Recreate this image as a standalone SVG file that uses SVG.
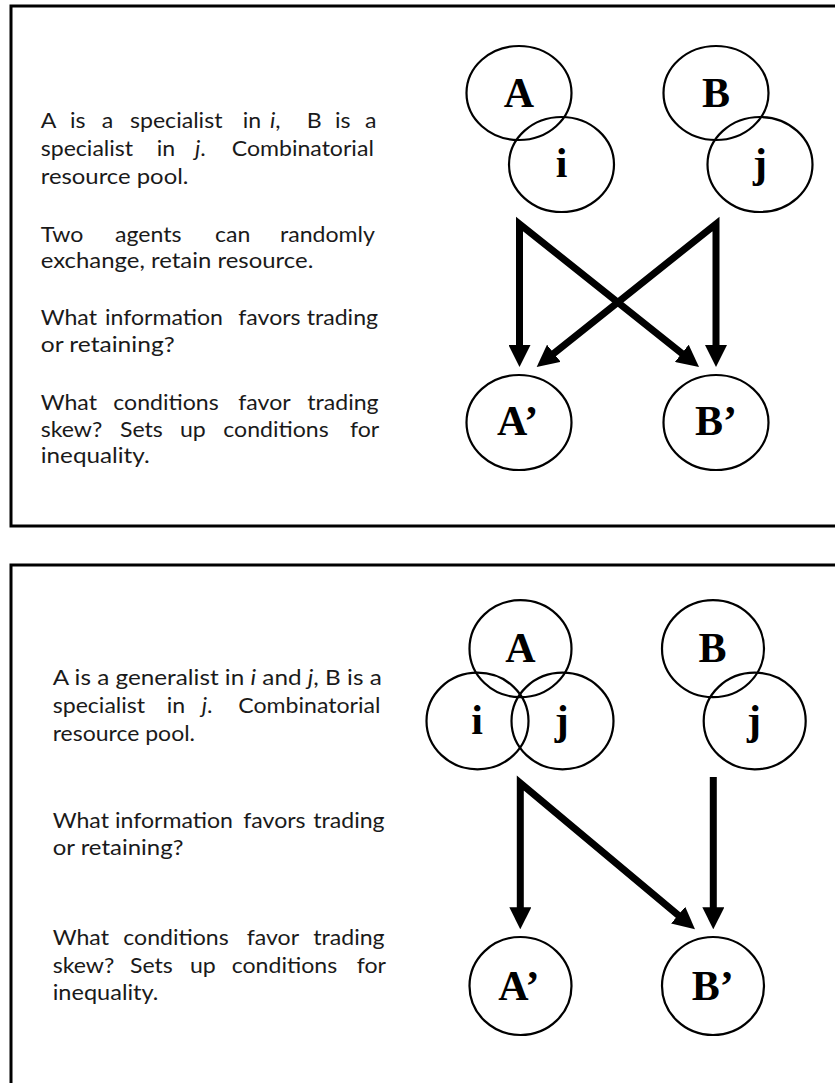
<svg xmlns="http://www.w3.org/2000/svg" width="835" height="1083" viewBox="0 0 835 1083">
<style>
.panel{fill:#fff;stroke:#000;stroke-width:3}
.c{fill:none;stroke:#000;stroke-width:2.2}
.lbl{font-family:"Liberation Serif","Times New Roman",serif;font-weight:bold;font-size:42px;fill:#000}
.t{font-family:Lato,"Open Sans",sans-serif;font-size:21px;fill:#1a1a1a}
.conn{fill:none;stroke:#000;stroke-width:7;stroke-linejoin:miter;stroke-miterlimit:6}
</style>
<defs>
<marker id="ah" viewBox="0 -11 22 22" refX="1" refY="0" markerWidth="22" markerHeight="22" markerUnits="userSpaceOnUse" orient="auto-start-reverse">
<path d="M0,-11 L22,0 L0,11 z" fill="#000"/>
</marker>
</defs>
<rect width="835" height="1083" fill="#fff"/>
<rect id="panel-top" class="panel" x="11" y="6" width="840" height="520"/>
<rect id="panel-bottom" class="panel" x="11" y="565" width="840" height="530"/>

<g id="text-top" class="t" transform="scale(1.1,1)">
<text><tspan x="37" y="128.3">A</tspan><tspan x="63.64">is</tspan><tspan x="92.45">a</tspan><tspan x="118.18">specialist</tspan><tspan x="220.64">in</tspan><tspan x="245.45" font-style="italic">i</tspan><tspan>,</tspan><tspan x="278.82">B</tspan><tspan x="304.55">is</tspan><tspan x="331.82">a</tspan><tspan x="37" y="156">specialist</tspan><tspan x="142.45">in</tspan><tspan x="177.27" font-style="italic">j</tspan><tspan>.</tspan><tspan x="210.64">Combinatorial</tspan><tspan x="37" y="184.3" textLength="134.3" lengthAdjust="spacingAndGlyphs">resource pool.</tspan></text>
<text><tspan x="37" y="241.7">Two</tspan><tspan x="104.55">agents</tspan><tspan x="195.45">can</tspan><tspan x="254.55">randomly</tspan><tspan x="37" y="268.3" textLength="247.8" lengthAdjust="spacingAndGlyphs">exchange, retain resource.</tspan></text>
<text><tspan x="37" y="325">What</tspan><tspan x="95.45">information</tspan><tspan x="216.64">favors</tspan><tspan x="278.82">trading</tspan><tspan x="37" y="351.7" textLength="121.8" lengthAdjust="spacingAndGlyphs">or retaining?</tspan></text>
<text><tspan x="37" y="410">What</tspan><tspan x="103">conditions</tspan><tspan x="216.64">favor</tspan><tspan x="279.36">trading</tspan><tspan x="37" y="436.7">skew?</tspan><tspan x="109.09">Sets</tspan><tspan x="163.64">up</tspan><tspan x="203">conditions</tspan><tspan x="318.18">for</tspan><tspan x="37" y="463.3" textLength="99.1" lengthAdjust="spacingAndGlyphs">inequality.</tspan></text>
</g>

<g id="text-bottom" class="t" transform="scale(1.1,1)">
<text><tspan x="47.91" y="685" textLength="299.1" lengthAdjust="spacingAndGlyphs">A is a generalist in <tspan font-style="italic">i</tspan> and <tspan font-style="italic">j</tspan>, B is a</tspan><tspan x="47.91" y="712.7">specialist</tspan><tspan x="151.55">in</tspan><tspan x="183.36" font-style="italic">j</tspan><tspan>.</tspan><tspan x="216.64">Combinatorial</tspan><tspan x="47.91" y="740.7" textLength="129.4" lengthAdjust="spacingAndGlyphs">resource pool.</tspan></text>
<text><tspan x="47.91" y="828.3">What</tspan><tspan x="104.55">information</tspan><tspan x="221.18">favors</tspan><tspan x="284.82">trading</tspan><tspan x="47.91" y="855" textLength="118.8" lengthAdjust="spacingAndGlyphs">or retaining?</tspan></text>
<text><tspan x="47.91" y="945">What</tspan><tspan x="112.09">conditions</tspan><tspan x="224.27">favor</tspan><tspan x="284.82">trading</tspan><tspan x="47.91" y="973.3">skew?</tspan><tspan x="118.18">Sets</tspan><tspan x="172.73">up</tspan><tspan x="210.64">conditions</tspan><tspan x="324.27">for</tspan><tspan x="47.91" y="1000" textLength="96.1" lengthAdjust="spacingAndGlyphs">inequality.</tspan></text>
</g>

<!-- top diagram nodes -->
<g id="top-A"><ellipse class="c" cx="519" cy="93" rx="52.5" ry="47"/><text class="lbl" x="519" y="107" text-anchor="middle">A</text></g>
<g id="top-i"><ellipse class="c" cx="561.5" cy="164.5" rx="52.5" ry="47.5"/><text class="lbl" x="561.5" y="177" text-anchor="middle">i</text></g>
<g id="top-B"><ellipse class="c" cx="716" cy="93" rx="52.5" ry="47"/><text class="lbl" x="716" y="107" text-anchor="middle">B</text></g>
<g id="top-j"><ellipse class="c" cx="760" cy="164.5" rx="52.5" ry="47.5"/><text class="lbl" x="760" y="177" text-anchor="middle">j</text></g>
<g id="top-A2"><ellipse class="c" cx="519" cy="422.5" rx="52.5" ry="47.5"/><text class="lbl" x="497" y="435">A’</text></g>
<g id="top-B2"><ellipse class="c" cx="716" cy="422.5" rx="52.5" ry="47.5"/><text class="lbl" x="695" y="435">B’</text></g>

<!-- bottom diagram nodes -->
<g id="bot-A"><ellipse class="c" cx="520.5" cy="648.7" rx="51" ry="48.5"/><text class="lbl" x="520.5" y="661.7" text-anchor="middle">A</text></g>
<g id="bot-i"><ellipse class="c" cx="477.5" cy="721" rx="51" ry="48.3"/><text class="lbl" x="477" y="734" text-anchor="middle">i</text></g>
<g id="bot-j1"><ellipse class="c" cx="562.5" cy="721" rx="51" ry="48.3"/><text class="lbl" x="561.7" y="734" text-anchor="middle">j</text></g>
<g id="bot-B"><ellipse class="c" cx="713" cy="648.7" rx="51" ry="48.5"/><text class="lbl" x="712.5" y="661.7" text-anchor="middle">B</text></g>
<g id="bot-j2"><ellipse class="c" cx="754.7" cy="721" rx="51" ry="48.3"/><text class="lbl" x="754" y="734" text-anchor="middle">j</text></g>
<g id="bot-A2"><ellipse class="c" cx="520.5" cy="986" rx="51" ry="49"/><text class="lbl" x="498.3" y="1000">A’</text></g>
<g id="bot-B2"><ellipse class="c" cx="713" cy="986" rx="51" ry="49"/><text class="lbl" x="691.7" y="1000">B’</text></g>

<g id="connectors">
<path class="conn" d="M519.5,346 L519.5,224 L682.6,353.9" marker-start="url(#ah)" marker-end="url(#ah)"/>
<path class="conn" d="M716,346 L716,224 L553.1,353.9" marker-start="url(#ah)" marker-end="url(#ah)"/>
<path class="conn" d="M520.3,908.3 L520.3,783 L678.9,915.8" marker-start="url(#ah)" marker-end="url(#ah)"/>
<path class="conn" d="M713.3,777 L713.3,908.3" marker-end="url(#ah)"/>
</g>
</svg>
